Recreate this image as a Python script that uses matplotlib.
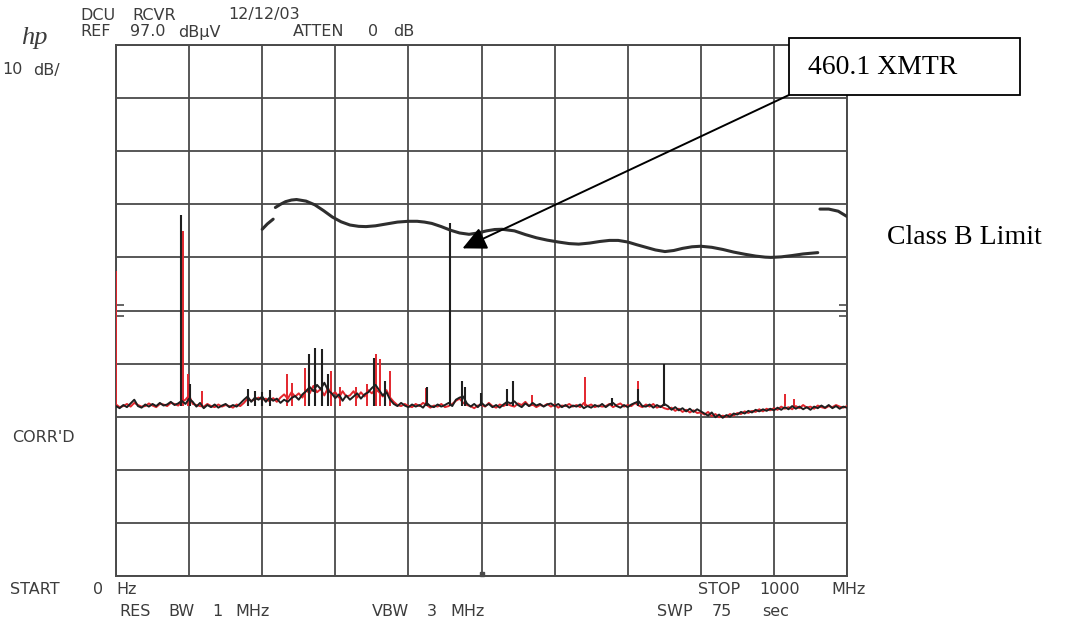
"""HP spectrum analyzer plot: DCU receiver emissions vs Class B limit."""
import numpy as np
import matplotlib.pyplot as plt
from matplotlib.patches import Rectangle

W_PX, H_PX = 1077, 627

# ---- data (MHz / dBuV) ----
# trace samples every 5 MHz, 0..1000 MHz
BLACK_DB = [
    29.0, 28.6, 29.2, 28.8, 29.5, 30.2, 29.0, 28.7, 29.3, 28.9, 29.4, 29.0, 29.6, 29.1, 29.3, 29.8, 29.2, 29.5, 30.0, 29.4,
    30.4, 29.8, 28.9, 29.6, 28.6, 29.2, 28.8, 29.3, 28.7, 29.1, 29.4, 28.8, 29.2, 28.9, 29.5, 30.2, 30.8, 29.8, 30.6, 30.2,
    30.8, 29.8, 30.6, 30.0, 30.4, 29.6, 30.2, 29.8, 30.5, 30.9, 30.2, 31.2, 31.8, 32.6, 31.8, 33.0, 32.2, 33.4, 32.0, 31.4,
    30.5, 31.2, 30.0, 31.0, 30.2, 30.8, 31.4, 30.4, 31.2, 31.6, 32.4, 33.0, 32.0, 31.0, 31.6, 30.2, 29.4, 29.0, 29.6, 29.1,
    28.8, 29.3, 28.9, 29.2, 28.7, 29.6, 29.0, 28.8, 29.3, 28.9, 29.2, 29.6, 29.0, 30.2, 30.6, 30.8, 29.5, 28.9, 29.4, 28.8,
    29.6, 29.0, 29.4, 28.8, 29.2, 28.7, 29.3, 29.8, 29.5, 29.9, 29.2, 28.8, 29.5, 29.0, 29.6, 29.1, 29.4, 28.9, 29.3, 29.5,
    29.0, 29.4, 28.8, 29.2, 28.7, 29.1, 28.9, 29.3, 28.6, 29.0, 28.7, 29.2, 28.9, 29.4, 28.8, 29.3, 29.6, 29.0, 28.7, 29.2,
    28.8, 29.3, 29.6, 29.9, 29.0, 28.9, 29.3, 28.7, 29.2, 28.8, 29.4, 29.0, 28.3, 28.8, 28.2, 28.6, 28.0, 28.5, 27.9, 28.4,
    28.0, 27.6, 27.2, 27.8, 26.9, 27.4, 26.8, 27.3, 27.0, 27.6, 27.4, 27.9, 27.6, 28.1, 27.8, 28.3, 28.0, 28.4, 28.1, 28.5,
    28.2, 28.7, 28.3, 28.8, 28.4, 29.0, 28.5, 28.9, 28.4, 28.8, 28.3, 28.9, 28.6, 29.1, 28.7, 29.2, 28.6, 29.0, 28.5, 28.9,
    28.7,
]
RED_DB = [
    29.3, 28.8, 29.0, 29.4, 28.9, 29.6, 29.2, 28.9, 29.0, 29.5, 29.1, 28.8, 29.4, 29.3, 29.0, 29.6, 29.4, 29.1, 29.8, 30.2,
    31.0, 29.4, 29.2, 29.0, 28.9, 29.4, 29.0, 28.8, 29.3, 28.9, 29.2, 29.0, 28.7, 29.3, 29.0, 29.6, 30.4, 30.0, 30.2, 30.6,
    30.2, 30.4, 29.9, 30.5, 29.8, 30.6, 31.2, 30.4, 31.6, 30.8, 31.4, 30.6, 32.0, 31.4, 32.8, 31.6, 32.2, 31.0, 32.4, 31.2,
    31.6, 30.6, 31.8, 30.8, 31.0, 31.8, 30.6, 31.6, 30.8, 32.0, 31.4, 32.2, 31.6, 30.8, 32.0, 30.6, 29.8, 29.2, 29.0, 29.4,
    29.0, 28.8, 29.4, 29.0, 29.6, 29.2, 28.7, 29.1, 28.9, 29.4, 28.8, 29.0, 29.4, 30.0, 30.4, 29.6, 29.2, 29.0, 28.6, 29.1,
    29.2, 28.9, 29.6, 29.0, 28.7, 29.3, 29.0, 29.4, 29.1, 28.9, 29.5, 29.2, 29.8, 29.0, 29.3, 28.8, 29.2, 29.0, 29.4, 28.9,
    29.3, 28.7, 29.1, 29.0, 29.4, 28.9, 29.2, 28.8, 29.6, 29.0, 29.3, 28.8, 29.1, 28.9, 29.0, 29.4, 28.8, 29.2, 29.5, 28.9,
    29.2, 29.0, 29.6, 29.1, 28.8, 29.3, 28.9, 29.4, 28.7, 29.0, 28.6, 28.4, 28.7, 28.1, 28.5, 27.9, 28.3, 27.8, 28.2, 27.7,
    27.8, 27.4, 27.9, 27.1, 27.5, 26.9, 27.2, 27.0, 27.5, 27.2, 27.7, 27.5, 28.0, 27.7, 28.1, 27.9, 28.4, 28.0, 28.5, 28.2,
    28.6, 28.3, 28.9, 28.5, 28.8, 28.4, 29.0, 28.6, 29.2, 28.7, 28.9, 28.5, 29.1, 28.8, 28.6, 29.0, 28.8, 29.2, 28.9, 28.7,
    29.0,
]

# narrow spurs (freq, peak level)
BLACK_SPIKE_MHZ = [89, 101, 180, 190, 200, 210, 264, 272, 282, 290, 353, 368, 425, 457, 474, 477, 499, 535, 543, 679, 714, 750]
BLACK_SPIKE_DB = [64.9, 33.2, 32.3, 31.8, 31.7, 32.0, 38.9, 40.0, 39.8, 35.1, 38.1, 33.8, 32.5, 63.4, 33.8, 32.5, 31.5, 32.3, 33.8, 30.6, 32.3, 37.0]
RED_SPIKE_MHZ = [0, 91, 98, 118, 234, 241, 258, 294, 306, 329, 344, 355, 361, 375, 424, 473, 569, 641, 714, 915, 927]
RED_SPIKE_DB = [54.5, 62.0, 35.1, 31.9, 35.1, 33.4, 36.2, 35.7, 32.5, 32.5, 33.2, 38.9, 37.9, 35.7, 32.4, 33.8, 31.0, 34.4, 33.8, 31.3, 30.4]
NOISE_FLOOR_DB = 29.0

# Class B limit line (three pieces as drawn by the analyzer)
LIMIT1_MHZ = [200, 207, 215]
LIMIT1_DB = [62.3, 63.3, 64.2]
LIMIT2_MHZ = [218, 225, 232, 240, 247, 260, 272, 284, 296, 308, 320, 332, 342,
              355, 370, 385, 400, 412, 422, 432, 445, 458, 470, 483,
              495, 507, 518, 528, 545, 560, 575, 590, 605, 620, 633,
              648, 662, 675, 687, 700, 712, 725, 738, 751,
              763, 775, 788, 800, 815, 830, 845, 860, 875, 888, 896,
              910, 925, 940, 960]
LIMIT2_DB = [66.4, 67.0, 67.5, 67.8, 67.9, 67.6, 66.9, 65.8, 64.6, 63.7, 63.1, 62.85, 62.8,
             62.95, 63.3, 63.65, 63.8, 63.8, 63.65, 63.4, 62.8, 62.1, 61.6, 61.35,
             61.6, 62.0, 62.25, 62.3, 62.0, 61.3, 60.7, 60.25, 59.9, 59.6, 59.5,
             59.7, 60.0, 60.2, 60.2, 59.9, 59.4, 58.9, 58.4, 58.1,
             58.3, 58.7, 59.0, 59.1, 58.9, 58.5, 58.0, 57.6, 57.25, 57.05, 57.0,
             57.1, 57.35, 57.65, 57.9]
LIMIT3_MHZ = [963, 975, 988, 1000]
LIMIT3_DB = [66.1, 66.1, 65.7, 64.7]

XMTR_LABEL = "460.1 XMTR"
XMTR_ARROW = (474, 58.7)
CENTER_MHZ = 500
REF_MARK_DB = [46.0, 48.0]

REF_DB = 97.0
DB_PER_DIV = 10
SPAN_MHZ = 1000

HEADER_WORDS = [
    ("DCU", 80, 15), ("RCVR", 132, 15), ("12/12/03", 228, 15),
    ("REF", 80, 32), ("97.0", 130, 32), ("dBµV", 178, 32),
    ("ATTEN", 293, 32), ("0", 368, 32), ("dB", 393, 32),
    ("10", 2, 70), ("dB/", 33, 70),
    ("CORR'D", 12, 437),
    ("START", 10, 590), ("0", 93, 590), ("Hz", 116, 590),
    ("RES", 119, 611), ("BW", 168, 611), ("1", 212, 611), ("MHz", 235, 611),
    ("VBW", 372, 611), ("3", 427, 611), ("MHz", 450, 611),
    ("STOP", 698, 590), ("1000", 759, 590), ("MHz", 831, 590),
    ("SWP", 657, 611), ("75", 712, 611), ("sec", 762, 611),
]

BLACK = "#1e1e1e"
RED = "#e3262d"
GRID = "#4a4a4a"
INK = "#3c3c3c"


def fx(x):
    return x / W_PX


def fy(y):
    return 1 - y / H_PX


fig = plt.figure(figsize=(W_PX / 100, H_PX / 100), dpi=100)
ax = fig.add_axes([fx(116), fy(576), fx(847) - fx(116), fy(45) - fy(576)])

freq = np.linspace(0, SPAN_MHZ, len(BLACK_DB))
ax.plot(freq, RED_DB, color=RED, lw=1.4, zorder=3)
ax.vlines(RED_SPIKE_MHZ, NOISE_FLOOR_DB, RED_SPIKE_DB, color=RED, lw=1.4, zorder=3)
ax.plot(freq, BLACK_DB, color=BLACK, lw=1.4, zorder=4)
ax.vlines(BLACK_SPIKE_MHZ, NOISE_FLOOR_DB, BLACK_SPIKE_DB, color=BLACK, lw=1.5, zorder=4)

for fm, db in [(LIMIT1_MHZ, LIMIT1_DB), (LIMIT2_MHZ, LIMIT2_DB), (LIMIT3_MHZ, LIMIT3_DB)]:
    ax.plot(fm, db, color="#2e2e2e", lw=2.2, solid_capstyle="round",
            solid_joinstyle="round", zorder=5)

bottom_db = REF_DB - 10 * DB_PER_DIV
ax.set_xlim(0, SPAN_MHZ)
ax.set_ylim(bottom_db, REF_DB)
ax.set_xticks(np.arange(0, SPAN_MHZ + 1, SPAN_MHZ / 10))
ax.set_yticks(np.arange(bottom_db, REF_DB + 0.1, DB_PER_DIV))
ax.set_yticks(REF_MARK_DB, minor=True)
ax.grid(True, color=GRID, lw=1.3)
ax.tick_params(which="major", length=0, labelbottom=False, labelleft=False)
ax.tick_params(which="minor", direction="in", length=6, width=1.2, color=GRID,
               left=True, right=True, labelleft=False)
for s in ax.spines.values():
    s.set_color(GRID)
    s.set_linewidth(1.4)
ax.plot(CENTER_MHZ, bottom_db + 0.4, "s", color=GRID, ms=3, zorder=6, clip_on=False)

# analyzer annotations
for word, x, y in HEADER_WORDS:
    fig.text(fx(x), fy(y), word, fontsize=11.5, color=INK, va="center", ha="left",
             family="DejaVu Sans")
fig.text(fx(21), fy(38), "hp", fontsize=19, style="italic", color=INK,
         family="Liberation Serif", va="center", ha="left")

# report annotations
box = Rectangle((fx(789), fy(95)), fx(1020) - fx(789), fy(38) - fy(95),
                transform=fig.transFigure, fill=True, fc="white", ec="black", lw=1.3, zorder=10)
fig.patches.append(box)
fig.text(fx(808), fy(68), XMTR_LABEL, fontsize=20, family="Liberation Serif",
         va="center", ha="left", zorder=11)
ax.annotate("", xy=XMTR_ARROW, xycoords="data",
            xytext=(fx(789), fy(95)), textcoords="figure fraction",
            arrowprops=dict(arrowstyle="-|>,head_length=1.45,head_width=0.7", color="black",
                            lw=1.4, shrinkA=0, shrinkB=0),
            annotation_clip=False, zorder=9)
fig.text(fx(887), fy(238), "Class B Limit", fontsize=20, family="Liberation Serif",
         va="center", ha="left")

fig.savefig("out.png", dpi=100, facecolor="white")
